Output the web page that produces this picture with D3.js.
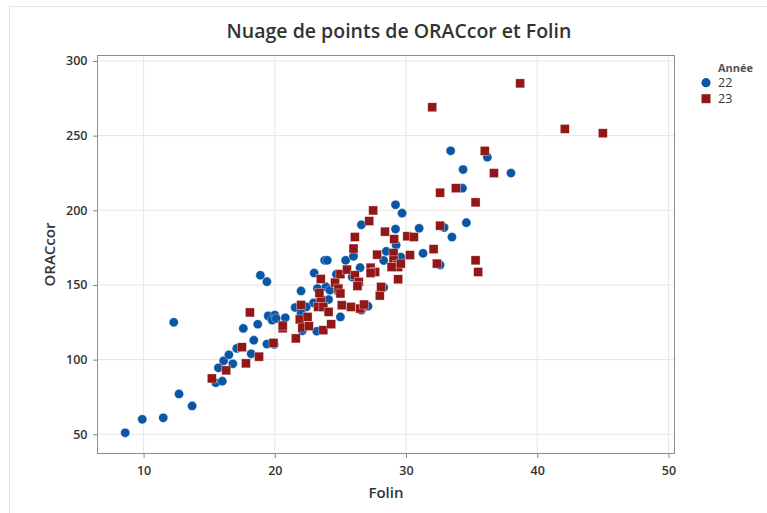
<!DOCTYPE html>
<html lang='fr'>
<head>
<meta charset='utf-8'>
<title>Nuage de points de ORACcor et Folin</title>
<script type='text/javascript' src='https://cdn.jsdelivr.net/npm/d3@7'></script>
<style>
  body { margin: 0; background: #fff; }
  text { font-family: 'Open Sans', 'DejaVu Sans', sans-serif; }
</style>
</head>
<body>
<script type='text/javascript'>
// Année 22 (cercles) : [Folin, ORACcor]
var annee22 = [
  [8.6, 51], [9.9, 60], [11.5, 61], [13.7, 69], [12.7, 77], [12.3, 125],
  [15.5, 84.5], [16.0, 85.6], [15.7, 94.5], [16.1, 99.2], [16.5, 103.2], [16.8, 97.2],
  [17.1, 107.5], [18.2, 103.9], [18.4, 113], [19.4, 110.4], [19.95, 110.2], [17.6, 120.9],
  [18.7, 123.7], [18.9, 156.5], [19.4, 152.2], [19.5, 129.3], [20.0, 129.8], [19.8, 126.4],
  [20.1, 127.5], [20.8, 128], [22.0, 146], [23.0, 158], [23.8, 166.5], [24.0, 166.5],
  [24.7, 157.2], [23.25, 147.6], [23.9, 148.7], [24.2, 146.5], [24.1, 140.2], [24.8, 146],
  [22.95, 138], [21.55, 134.9], [22.06, 135.8], [22.4, 135.3], [22.0, 130.9], [23.2, 119],
  [22.1, 119.3], [25.0, 128.6], [25.4, 166.5], [26.0, 169.2], [26.5, 161.6], [25.9, 155.3],
  [26.6, 133.1], [27.1, 135.8], [28.3, 166.4], [28.5, 172.5], [29.6, 168.7], [28.3, 148.3],
  [29.25, 176.7], [31.3, 171.2], [32.6, 163.4], [26.6, 190.3], [29.2, 203.7], [29.7, 198.1],
  [29.2, 187.4], [31.0, 187.9], [32.9, 188.4], [34.6, 191.7], [33.5, 182.1], [34.3, 214.8],
  [33.4, 239.8], [34.35, 227.3], [36.2, 235.6], [38.0, 224.9]
];
// Année 23 (carrés)
var annee23 = [
  [15.2, 87.4], [16.3, 92.8], [17.8, 97.5], [17.5, 108.3], [18.8, 102], [19.9, 111.2],
  [18.1, 131.6], [20.6, 121], [20.6, 122.8], [21.6, 114.2], [21.9, 126.9], [22.5, 128.6],
  [22.1, 121.5], [22.6, 122.4], [23.7, 119.7], [24.3, 123.7], [22.0, 136.6], [23.5, 139.8],
  [23.3, 135.3], [23.7, 135.3], [24.1, 132], [23.4, 144.7], [23.5, 154], [24.6, 151.6],
  [24.85, 147.6], [25.0, 144.3], [25.0, 157.2], [25.1, 136.4], [25.8, 135.3], [26.5, 134.2],
  [26.8, 136.9], [25.5, 160.3], [26.1, 156.5], [26.4, 152], [26.3, 149.3], [27.3, 161.6],
  [27.65, 158.7], [27.3, 158], [27.8, 170.3], [28.0, 142.9], [28.1, 148.7], [29.4, 153.8],
  [29.05, 171.4], [29.05, 166.5], [29.3, 163.2], [29.4, 162], [28.9, 162], [29.6, 164.3],
  [30.3, 170], [32.35, 164.3], [32.1, 174], [26.0, 174.4], [26.1, 182.1], [28.4, 185.7],
  [29.1, 180.7], [30.1, 182.6], [30.6, 182.1], [27.2, 192.8], [27.5, 199.9], [32.6, 211.8],
  [33.8, 214.8], [35.3, 205.3], [35.3, 166.5], [35.5, 158.7], [32.0, 269], [38.7, 285],
  [42.1, 254.5], [45.0, 251.6], [36.0, 239.8], [36.7, 224.9], [32.6, 189.7]
];
var xTicks = [10, 20, 30, 40, 50];
var yTicks = [50, 100, 150, 200, 250, 300];
var legendLabels = ['22', '23'];

{
  const width = 767, height = 513;
  const pL = 97, pR = 675, pT = 55, pB = 454;
  const blue = '#0a56a6', red = '#921717';

  const svg = d3.select('body').append('svg').attr('width', width).attr('height', height);

  // cadre extérieur
  svg.append('path')
    .attr('d', 'M9.5,' + height + 'V6.5H' + width)
    .attr('fill', 'none').attr('stroke', '#e3e3e3');

  const x = d3.scaleLinear().domain([6.45, 50.5]).range([pL, pR]);
  const y = d3.scaleLinear().domain([36.8, 304]).range([pB, pT]);

  // grille
  svg.append('g').selectAll('line').data(xTicks).enter().append('line')
    .attr('x1', d => x(d)).attr('x2', d => x(d)).attr('y1', pT).attr('y2', pB)
    .attr('stroke', '#e6e6e6');
  svg.append('g').selectAll('line').data(yTicks).enter().append('line')
    .attr('y1', d => y(d)).attr('y2', d => y(d)).attr('x1', pL).attr('x2', pR)
    .attr('stroke', '#e6e6e6');

  // axes
  const xAxis = svg.append('g')
    .attr('transform', 'translate(0,' + pB + ')')
    .call(d3.axisBottom(x).tickValues(xTicks).tickSize(4).tickSizeOuter(0));
  const yAxis = svg.append('g')
    .attr('transform', 'translate(' + pL + ',0)')
    .call(d3.axisLeft(y).tickValues(yTicks).tickSize(4).tickSizeOuter(0));
  [xAxis, yAxis].forEach(function(a) {
    a.select('.domain').remove();
    a.selectAll('line').attr('stroke', '#888');
    a.selectAll('text').attr('fill', '#333').style('font-size', '12.5px').style('font-weight', '600');
  });
  xAxis.selectAll('text').attr('dy', '1.1em');
  yAxis.selectAll('text').attr('dx', '-0.2em');

  svg.append('rect')
    .attr('x', pL + 0.5).attr('y', pT + 0.5)
    .attr('width', pR - pL - 1).attr('height', pB - pT - 1)
    .attr('fill', 'none').attr('stroke', '#8c8c8c');

  // points
  svg.append('g').selectAll('circle').data(annee22).enter().append('circle')
    .attr('cx', d => x(d[0])).attr('cy', d => y(d[1])).attr('r', 4.6)
    .attr('fill', blue).attr('stroke', '#fff').attr('stroke-opacity', 0.6).attr('stroke-width', 0.6);
  svg.append('g').selectAll('rect').data(annee23).enter().append('rect')
    .attr('x', d => x(d[0]) - 4.5).attr('y', d => y(d[1]) - 4.5)
    .attr('width', 9).attr('height', 9)
    .attr('fill', red).attr('stroke', '#fff').attr('stroke-opacity', 0.6).attr('stroke-width', 0.6);

  // titres
  svg.append('text').attr('x', 399).attr('y', 38).attr('text-anchor', 'middle')
    .attr('fill', '#333').style('font-size', '19.5px').style('font-weight', '600')
    .text('Nuage de points de ORACcor et Folin');
  svg.append('text').attr('x', (pL + pR) / 2).attr('y', 498).attr('text-anchor', 'middle')
    .attr('fill', '#333').style('font-size', '15px').style('font-weight', '600')
    .text('Folin');
  svg.append('text').attr('transform', 'translate(55,' + ((pT + pB) / 2) + ') rotate(-90)')
    .attr('text-anchor', 'middle')
    .attr('fill', '#333').style('font-size', '15px').style('font-weight', '600')
    .text('ORACcor');

  // légende
  const lg = svg.append('g').attr('transform', 'translate(706,0)');
  lg.append('text').attr('x', 12).attr('y', 72).attr('fill', '#555')
    .style('font-size', '11px').style('font-weight', '700').text('Année');
  lg.append('circle').attr('cx', 0).attr('cy', 82.7).attr('r', 4.6).attr('fill', blue);
  lg.append('rect').attr('x', -4.5).attr('y', 94.2).attr('width', 9).attr('height', 9).attr('fill', red);
  lg.selectAll('text.lbl').data(legendLabels).enter().append('text')
    .attr('class', 'lbl').attr('x', 12).attr('y', (d, i) => 87 + i * 16.3)
    .attr('fill', '#333').style('font-size', '12.5px').text(d => d);
}
</script>
</body>
</html>
